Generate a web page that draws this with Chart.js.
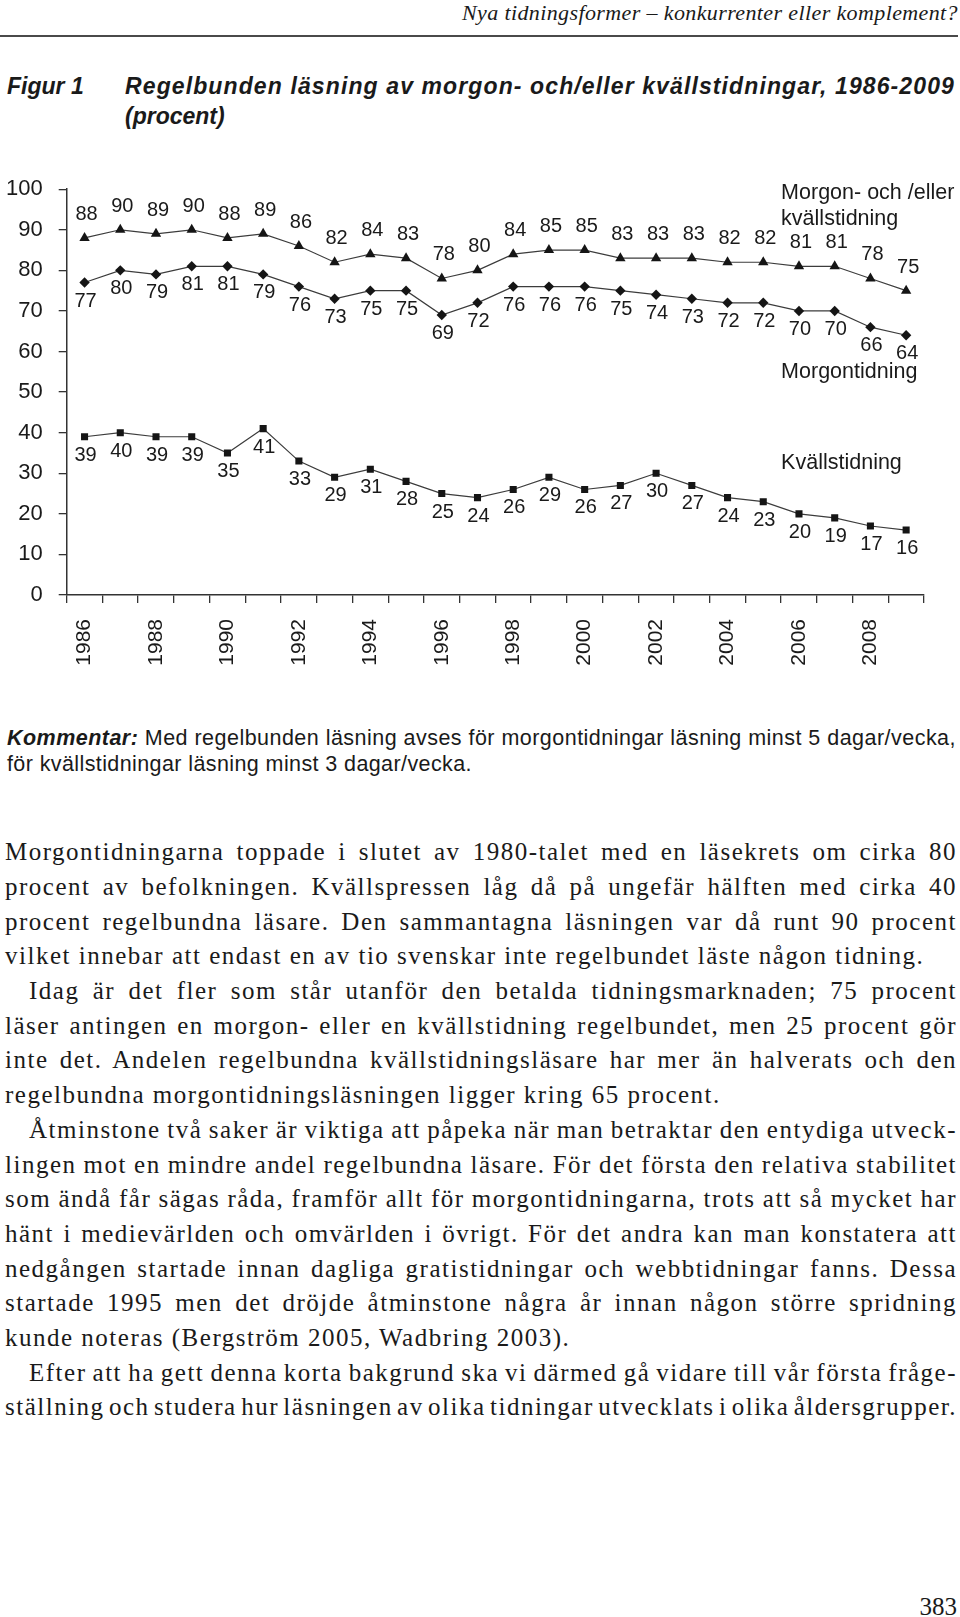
<!DOCTYPE html>
<html lang="sv">
<head>
<meta charset="utf-8">
<title>Figur 1 – Regelbunden läsning av morgon- och/eller kvällstidningar</title>
<script src="https://cdn.jsdelivr.net/npm/chart.js@4.4.1/dist/chart.umd.min.js"></script>
<style>
  html, body { margin: 0; padding: 0; background: #fff; }
  body { position: relative; width: 960px; height: 1617px; overflow: hidden; color: #1a1a1a; }
  .rad { position: absolute; white-space: pre; width: max-content; }
  #sidhuvud { left: 462px; top: 2px; font: italic 22px/22px "Liberation Serif"; }
  #linje { position: absolute; left: 0; top: 35px; width: 958px; height: 2px; background: #4a4a4a; }
  .titel { font: italic bold 23px/26px "Liberation Sans"; }
  .kommentar { font: 21.5px/27px "Liberation Sans"; letter-spacing: 0.4px; }
  .kommentar b { font-style: italic; }
  .brod { font: 25px/34.7px "Liberation Serif"; letter-spacing: 1.5px; }
  #sida { right: 3px; top: 1594px; font: 25px/25px "Liberation Serif"; }
  #graf { position: absolute; left: 0; top: 160px; }
</style>
</head>
<body>

<div id="sidhuvud" class="rad">Nya tidningsformer – konkurrenter eller komplement?</div>
<div id="linje"></div>

<div class="rad titel" style="left:7px; top:73px">Figur 1</div>
<div class="rad titel" id="titel1" style="left:125px; top:73px">Regelbunden läsning av morgon- och/eller kvällstidningar, 1986-2009</div>
<div class="rad titel" style="left:125px; top:103px">(procent)</div>

<canvas id="graf" width="960" height="530"></canvas>

<div class="rad kommentar" id="komm1" style="left:7px; top:724.5px"><b>Kommentar:</b> Med regelbunden läsning avses för morgontidningar läsning minst 5 dagar/vecka,</div>
<div class="rad kommentar" style="left:7px; top:751.3px">för kvällstidningar läsning minst 3 dagar/vecka.</div>

<div id="brodtext"></div>

<div id="sida" class="rad">383</div>

<script>
// data
const ar = ['1986', '1987', '1988', '1989', '1990', '1991', '1992', '1993', '1994', '1995', '1996', '1997',
            '1998', '1999', '2000', '2001', '2002', '2003', '2004', '2005', '2006', '2007', '2008', '2009'];
const morgonEllerKvall = [88, 90, 89, 90, 88, 89, 86, 82, 84, 83, 78, 80, 84, 85, 85, 83, 83, 83, 82, 82, 81, 81, 78, 75];
const morgon = [77, 80, 79, 81, 81, 79, 76, 73, 75, 75, 69, 72, 76, 76, 76, 75, 74, 73, 72, 72, 70, 70, 66, 64];
const kvall = [39, 40, 39, 39, 35, 41, 33, 29, 31, 28, 25, 24, 26, 29, 26, 27, 30, 27, 24, 23, 20, 19, 17, 16];
const yTicks = [0, 10, 20, 30, 40, 50, 60, 70, 80, 90, 100];

// brödtexten, rad för rad: [text, indrag, utfyllt]
const brodrader = [
    ['Morgontidningarna toppade i slutet av 1980-talet med en läsekrets om cirka 80', false, true],
    ['procent av befolkningen. Kvällspressen låg då på ungefär hälften med cirka 40', false, true],
    ['procent regelbundna läsare. Den sammantagna läsningen var då runt 90 procent', false, true],
    ['vilket innebar att endast en av tio svenskar inte regelbundet läste någon tidning.', false, false],
    ['Idag är det fler som står utanför den betalda tidningsmarknaden; 75 procent', true, true],
    ['läser antingen en morgon- eller en kvällstidning regelbundet, men 25 procent gör', false, true],
    ['inte det. Andelen regelbundna kvällstidningsläsare har mer än halverats och den', false, true],
    ['regelbundna morgontidningsläsningen ligger kring 65 procent.', false, false],
    ['Åtminstone två saker är viktiga att påpeka när man betraktar den entydiga utveck-', true, true],
    ['lingen mot en mindre andel regelbundna läsare. För det första den relativa stabilitet', false, true],
    ['som ändå får sägas råda, framför allt för morgontidningarna, trots att så mycket har', false, true],
    ['hänt i medievärlden och omvärlden i övrigt. För det andra kan man konstatera att', false, true],
    ['nedgången startade innan dagliga gratistidningar och webbtidningar fanns. Dessa', false, true],
    ['startade 1995 men det dröjde åtminstone några år innan någon större spridning', false, true],
    ['kunde noteras (Bergström 2005, Wadbring 2003).', false, false],
    ['Efter att ha gett denna korta bakgrund ska vi därmed gå vidare till vår första fråge-', true, true],
    ['ställning och studera hur läsningen av olika tidningar utvecklats i olika åldersgrupper.', false, true]
];


// fyll ut raden med ordmellanrum
function justera(el, bredd) {
    el.style.wordSpacing = '0px';
    const natur = el.getBoundingClientRect().width;
    const mellanrum = (el.textContent.match(/ /g) || []).length;
    if (mellanrum) el.style.wordSpacing = ((bredd - natur) / mellanrum) + 'px';
}

// fyll ut raden med teckenmellanrum
function sparra(el, bredd) {
    el.style.letterSpacing = '0px';
    const natur = el.getBoundingClientRect().width;
    el.style.letterSpacing = ((bredd - natur) / el.textContent.length) + 'px';
}


function skrivText() {
    const behallare = document.getElementById('brodtext');
    brodrader.forEach(([text, indrag, utfyllt], i) => {
        const rad = document.createElement('div');
        rad.className = 'rad brod';
        rad.textContent = text;
        const vanster = indrag ? 29 : 5;
        rad.style.left = vanster + 'px';
        rad.style.top = (835.2 + i * 34.7) + 'px';
        behallare.appendChild(rad);
        if (utfyllt) justera(rad, 957 - vanster);
    });
    sparra(document.getElementById('komm1'), 949);
    sparra(document.getElementById('titel1'), 830);
    sparra(document.getElementById('sidhuvud'), 496);
}


// siffror vid punkterna och seriernas namn
const etikettLage = ['over', 'under', 'under'];
const etiketter = {
    id: 'etiketter',
    afterDatasetsDraw(chart) {
        const ctx = chart.ctx;
        ctx.save();
        ctx.fillStyle = '#1a1a1a';
        ctx.font = '20px "Liberation Sans"';
        ctx.textAlign = 'center';
        ctx.textBaseline = 'alphabetic';
        chart.data.datasets.forEach((ds, d) => {
            chart.getDatasetMeta(d).data.forEach((pt, i) => {
                if (etikettLage[d] === 'over') {
                    ctx.fillText(ds.data[i], pt.x + 2, pt.y - 18);
                } else {
                    ctx.fillText(ds.data[i], pt.x + 1, pt.y + 24);
                }
            });
        });

        const x = chart.scales.x;
        const y = chart.scales.y;
        const vx = (x.getPixelForValue(19) + x.getPixelForValue(20)) / 2;
        ctx.font = '21.5px "Liberation Sans"';
        ctx.textAlign = 'left';
        ctx.fillText('Morgon- och /eller', vx, y.getPixelForValue(97.7));
        ctx.fillText('kvällstidning', vx, y.getPixelForValue(91.2));
        ctx.fillText('Morgontidning', vx, y.getPixelForValue(53.5));
        ctx.fillText('Kvällstidning', vx, y.getPixelForValue(31.0));
        ctx.restore();
    }
};


function skapaSerie(namn, data, stil, radie) {
    return {
        label: namn,
        data: data,
        borderColor: '#3c3c3c',
        borderWidth: 1.2,
        pointStyle: stil,
        pointRadius: radie,
        pointHoverRadius: radie,
        pointBackgroundColor: '#151515',
        pointBorderWidth: 0,
        tension: 0
    };
}


function ritaGraf() {
    Chart.defaults.font.family = '"Liberation Sans", Arial, sans-serif';
    Chart.defaults.color = '#1a1a1a';

    new Chart(document.getElementById('graf'), {
        type: 'line',
        data: {
            labels: ar,
            datasets: [
                skapaSerie('Morgon- och /eller kvällstidning', morgonEllerKvall, 'triangle', 6),
                skapaSerie('Morgontidning', morgon, 'rectRot', 5.2),
                skapaSerie('Kvällstidning', kvall, 'rect', 5)
            ]
        },
        options: {
            responsive: false,
            animation: false,
            events: [],
            layout: { padding: { top: 0, right: 36, left: 0, bottom: 0 } },
            plugins: { legend: { display: false }, tooltip: { enabled: false } },
            scales: {
                x: {
                    offset: true,
                    grid: { offset: true, drawOnChartArea: false, tickLength: 8, color: '#333', lineWidth: 1.3 },
                    border: { color: '#333', width: 1.5 },
                    ticks: {
                        autoSkip: false,
                        maxRotation: 90,
                        minRotation: 90,
                        padding: 16,
                        font: { size: 21 },
                        callback: (v, i) => i % 2 === 0 ? ar[i] : ''
                    },
                    afterFit: s => { s.height = 95; }
                },
                y: {
                    min: yTicks[0],
                    max: yTicks[yTicks.length - 1],
                    afterBuildTicks: s => { s.ticks = yTicks.map(v => ({ value: v })); },
                    ticks: { padding: 16, font: { size: 22 } },
                    grid: { drawOnChartArea: false, tickLength: 8, color: '#333', lineWidth: 1.3 },
                    border: { color: '#333', width: 1.5 },
                    afterFit: s => { s.width = 66.7; }
                }
            }
        },
        plugins: [etiketter]
    });
}


skrivText();
ritaGraf();
</script>
</body>
</html>
